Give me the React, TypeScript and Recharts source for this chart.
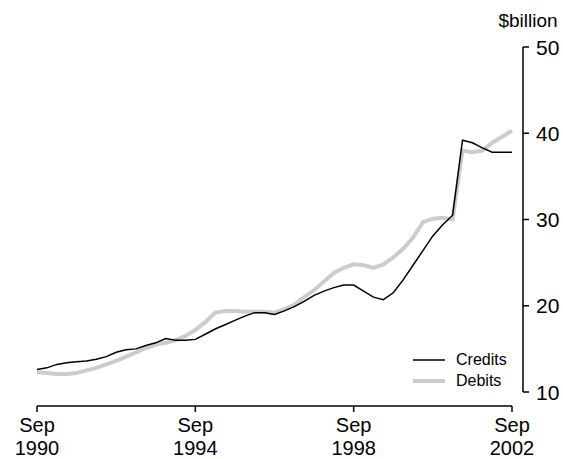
import React from "react";
import { LineChart, Line, XAxis, YAxis, Legend, Customized } from "recharts";

// quarterly, Sep 1990 .. Sep 2002
const quarters = [
  "Sep 1990", "Dec 1990", "Mar 1991", "Jun 1991", "Sep 1991", "Dec 1991", "Mar 1992", "Jun 1992",
  "Sep 1992", "Dec 1992", "Mar 1993", "Jun 1993", "Sep 1993", "Dec 1993", "Mar 1994", "Jun 1994",
  "Sep 1994", "Dec 1994", "Mar 1995", "Jun 1995", "Sep 1995", "Dec 1995", "Mar 1996", "Jun 1996",
  "Sep 1996", "Dec 1996", "Mar 1997", "Jun 1997", "Sep 1997", "Dec 1997", "Mar 1998", "Jun 1998",
  "Sep 1998", "Dec 1998", "Mar 1999", "Jun 1999", "Sep 1999", "Dec 1999", "Mar 2000", "Jun 2000",
  "Sep 2000", "Dec 2000", "Mar 2001", "Jun 2001", "Sep 2001", "Dec 2001", "Mar 2002", "Jun 2002",
  "Sep 2002",
];

const credits = [
  12.6, 12.8, 13.2, 13.4, 13.5, 13.6, 13.8, 14.1, 14.6, 14.9,
  15.0, 15.4, 15.7, 16.2, 16.0, 16.0, 16.1, 16.7, 17.3, 17.8,
  18.3, 18.8, 19.2, 19.2, 19.0, 19.4, 19.9, 20.5, 21.2, 21.7,
  22.1, 22.4, 22.4, 21.7, 21.0, 20.7, 21.5, 23.0, 24.7, 26.4,
  28.1, 29.4, 30.5, 39.2, 38.9, 38.3, 37.8, 37.8, 37.8,
];

const debits = [
  12.3, 12.2, 12.1, 12.1, 12.2, 12.5, 12.8, 13.2, 13.6, 14.1,
  14.6, 15.1, 15.5, 15.7, 16.0, 16.5, 17.2, 18.1, 19.2, 19.4,
  19.4, 19.3, 19.3, 19.3, 19.2, 19.6, 20.1, 21.0, 21.8, 22.8,
  23.8, 24.4, 24.8, 24.7, 24.4, 24.8, 25.6, 26.6, 27.9, 29.7,
  30.1, 30.2, 30.0, 38.0, 37.8, 38.0, 38.9, 39.6, 40.3,
];

const yTicks = [10, 20, 30, 40, 50];

const data = quarters.map((q, i) => ({ q, credits: credits[i], debits: debits[i] }));

const W = 563;
const H = 459;
const PLOT = { left: 37, right: 512, top: 47, bottom: 392 };
const Y_AXIS_W = 40;
const X_AXIS_H = 50;
const X_GAP = 14; // x axis line sits below the plot
const Y_GAP = 11; // y axis line sits right of the plot
const FONT = '"Liberation Sans", Arial, sans-serif';
const GREY = "#cccccc";

function XTick(props: any) {
  const { x, y, payload } = props;
  const [mon, yr] = String(payload.value).split(" ");
  const ay = y + X_GAP;
  return (
    <g>
      <line x1={x} x2={x} y1={ay} y2={ay + 6} stroke="#000" strokeWidth={1.5} />
      <text x={x} y={ay + 25.5} textAnchor="middle" fontSize={20} fontFamily={FONT} fill="#000">
        {mon}
      </text>
      <text x={x} y={ay + 48.5} textAnchor="middle" fontSize={20} fontFamily={FONT} fill="#000">
        {yr}
      </text>
    </g>
  );
}

function YTick(props: any) {
  const { x, y, payload } = props;
  const ax = x + Y_GAP;
  return (
    <g>
      <line x1={ax} x2={ax + 6} y1={y} y2={y} stroke="#000" strokeWidth={1.5} />
      <text x={ax + 13} y={y} dy="0.36em" textAnchor="start" fontSize={21} fontFamily={FONT} fill="#000">
        {payload.value}
      </text>
    </g>
  );
}

function AxisLines() {
  return (
    <g>
      <line
        x1={PLOT.left}
        x2={PLOT.right}
        y1={PLOT.bottom + X_GAP}
        y2={PLOT.bottom + X_GAP}
        stroke="#000"
        strokeWidth={1.5}
      />
      <line
        x1={PLOT.right + Y_GAP}
        x2={PLOT.right + Y_GAP}
        y1={PLOT.top}
        y2={PLOT.bottom}
        stroke="#000"
        strokeWidth={1.5}
      />
      <text x={528} y={27} textAnchor="middle" fontSize={19} fontFamily={FONT} fill="#000">
        $billion
      </text>
    </g>
  );
}

function LegendBox() {
  const rows = [
    { name: "Credits", color: "#000", width: 1.5 },
    { name: "Debits", color: GREY, width: 4 },
  ];
  return (
    <div style={{ fontFamily: FONT, fontSize: 16, color: "#000" }}>
      {rows.map((r) => (
        <div key={r.name} style={{ display: "flex", alignItems: "center", height: 21 }}>
          <svg width={32} height={10} style={{ marginRight: 11 }}>
            <line x1={0} x2={32} y1={5} y2={5} stroke={r.color} strokeWidth={r.width} />
          </svg>
          <span>{r.name}</span>
        </div>
      ))}
    </div>
  );
}

export default function App() {
  return (
    <div style={{ position: "absolute", left: 0, top: 0, width: W, height: H, background: "#fff" }}>
      <LineChart
        width={W}
        height={H}
        data={data}
        margin={{
          top: PLOT.top,
          left: PLOT.left,
          right: W - PLOT.right - Y_AXIS_W,
          bottom: H - PLOT.bottom - X_AXIS_H,
        }}
      >
        <XAxis
          dataKey="q"
          interval={15}
          height={X_AXIS_H}
          axisLine={false}
          tickLine={false}
          tickSize={0}
          tickMargin={0}
          tick={<XTick />}
        />
        <YAxis
          orientation="right"
          width={Y_AXIS_W}
          domain={[10, 50]}
          ticks={yTicks}
          axisLine={false}
          tickLine={false}
          tickSize={0}
          tickMargin={0}
          tick={<YTick />}
        />
        <Legend
          layout="vertical"
          align="center"
          verticalAlign="middle"
          content={<LegendBox />}
          wrapperStyle={{ left: 413, top: 349, width: 110 }}
        />
        <Line
          type="linear"
          dataKey="debits"
          name="Debits"
          stroke={GREY}
          strokeWidth={4}
          dot={false}
          isAnimationActive={false}
        />
        <Line
          type="linear"
          dataKey="credits"
          name="Credits"
          stroke="#000"
          strokeWidth={1.5}
          dot={false}
          isAnimationActive={false}
        />
        <Customized component={<AxisLines />} />
      </LineChart>
    </div>
  );
}
